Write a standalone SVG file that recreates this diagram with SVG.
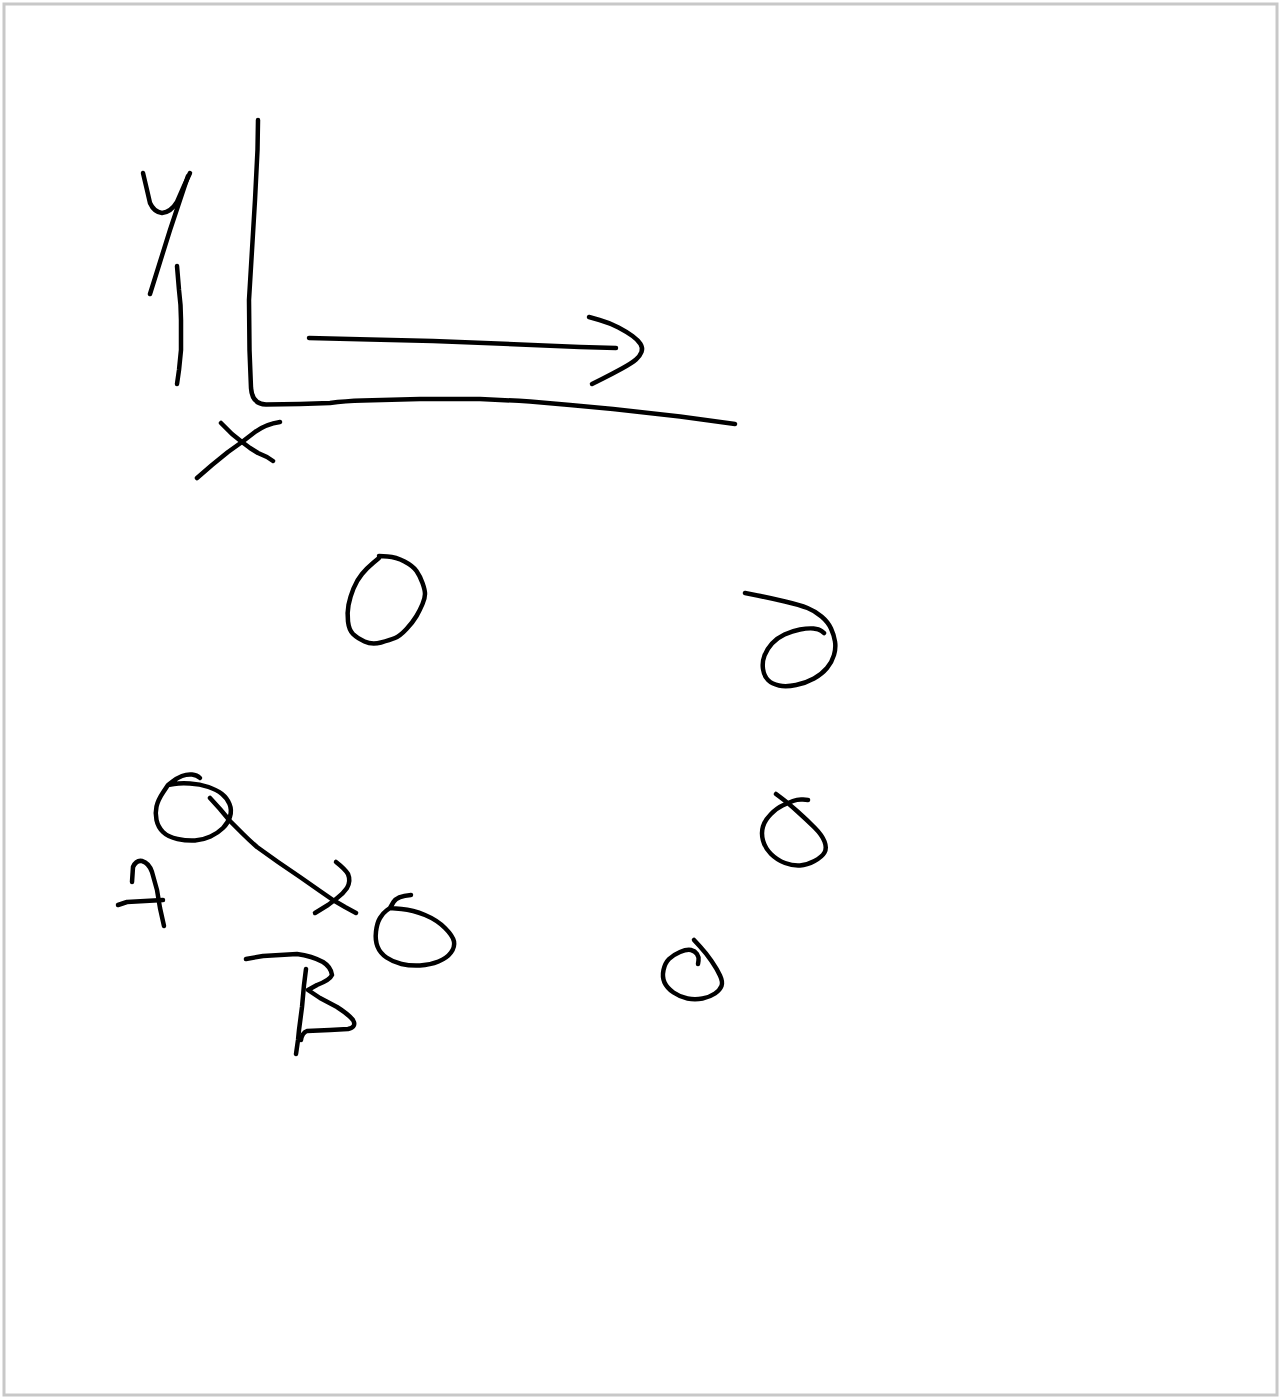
<svg xmlns="http://www.w3.org/2000/svg" width="1281" height="1399" viewBox="0 0 1281 1399">
<style>
.ink{fill:none;stroke:#000;stroke-width:4.5;stroke-linecap:round;stroke-linejoin:round}
</style>
<rect x="0" y="0" width="1281" height="1399" fill="#fff"/>
<rect x="4" y="4" width="1273" height="1391" fill="#fff" stroke="#c8c8c8" stroke-width="3"/>
<g id="axes">
<path class="ink" d="M258,120 L257.5,150 L255,200 L252,250 L249,300 L249.5,350 L251,388 Q252,404 266,404.5 L300,404 L330,403 Q345,401 363,400.5 L420,399 L480,399 Q505,400 530,401.5 L570,405 L613,409 L680,416.5 L735,424"/>
<polyline class="ink" points="309,338 370,339.5 433,341 520,344.5 580,347 616,348"/>
<path class="ink" d="M589,317 L599.5,320 Q610,323 618.5,327.5 Q627,332 632.5,336 Q638,340 640.5,344 Q643,348 641.5,352 Q640,356 636,359.5 Q632,363 622,368.5 Q612,374 602,379 L592,384"/>
</g>
<g id="label-y">
<path class="ink" d="M143,173 L147,190 L150,203 Q154,212 162,213 Q171,212 177,202 L184,186 L190,173"/>
<polyline class="ink" points="188,176 180,200 170,230 160,262 150,294"/>
<path class="ink" d="M177,266 L179,290 Q181,305 181,320 L181,350 L179,370 L177,384"/>
</g>
<g id="label-x">
<polyline class="ink" points="221,423 232,434 242,442 250,448 258,453 267,457 273,461"/>
<path class="ink" d="M280,422 Q266,424 255,432 L242,442 L228,452 L212,465 L197,478"/>
</g>
<g id="node-1">
<path class="ink" d="M379,556 L387.5,556.5 Q396,557 404.5,561.5 Q413,566 416.5,571 Q420,576 422.5,583 Q425,590 425,594 Q425,598 422.5,604 Q420,610 416.5,616 Q413,622 406.5,629 Q400,636 395,638 Q390,640 381,642.5 Q372,645 364.5,641.5 Q357,638 353,634 Q349,630 348,621.5 Q347,613 348.5,605 Q350,597 353.5,588.5 Q357,580 362,574 Q367,568 373,563 L379,558"/>
</g>
<g id="node-2">
<path class="ink" d="M745,593 L757.5,595.5 Q770,598 785,601.5 Q800,605 807.5,608 Q815,611 821.5,616.5 Q828,622 831,628.5 Q834,635 835,641.5 Q836,648 834,655 Q832,662 827,668 Q822,674 814,678.5 Q806,683 796,685 Q786,687 779,685.5 Q772,684 768,680 Q764,676 763,669 Q762,662 764.5,655.5 Q767,649 772,643.5 Q777,638 784.5,634.5 Q792,631 800,629.5 Q808,628 813.5,628.5 Q819,629 821.5,631 L824,633"/>
</g>
<g id="node-3">
<path class="ink" d="M776,794 L782,798.5 Q788,803 797.5,811.5 Q807,820 814.5,827.5 Q822,835 824.5,841.5 Q827,848 824.5,852.5 Q822,857 814.5,861 Q807,865 800,865.5 Q793,866 785,863 Q777,860 771,854 Q765,848 763,840.5 Q761,833 763,826.5 Q765,820 771,814 Q777,808 782.5,805.5 Q788,803 793,801 Q798,799 803,799.5 L808,800"/>
</g>
<g id="node-4">
<path class="ink" d="M694,940 L700,946.5 Q706,953 711.5,961 Q717,969 720,975.5 Q723,982 721.5,986 Q720,990 715,993.5 Q710,997 702.5,998.5 Q695,1000 687.5,998.5 Q680,997 673.5,992.5 Q667,988 664.5,982.5 Q662,977 663.5,970 Q665,963 669,959 Q673,955 680,952 Q687,949 691,950 Q695,951 697,954 Q699,957 698.5,960.5 L698,964"/>
</g>
<g id="node-A">
<path class="ink" d="M200,778 Q197,775 192,774.5 Q187,774 182,776 Q177,778 172.5,781.5 L168,785 L174,784 Q180,783 190,783.5 Q200,784 208.5,787 Q217,790 222,794 Q227,798 229.5,804 Q232,810 230,816.5 Q228,823 223,828 Q218,833 210.5,836.5 Q203,840 195,840.5 Q187,841 177.5,839 Q168,837 163,832 Q158,827 156.5,820 Q155,813 156.5,806.5 Q158,800 163,792.5 L168,785"/>
</g>
<g id="node-B">
<path class="ink" d="M411,895 Q397,896 393.5,902 L390,908 L401.5,909 Q413,910 425,915 Q437,920 445,928 Q453,936 454,941.5 Q455,947 451,952.5 Q447,958 438.5,961.5 Q430,965 420,965.5 Q410,966 401.5,964 Q393,962 386.5,957.5 Q380,953 377.5,946.5 Q375,940 376,931.5 Q377,923 380,918 Q383,913 386.5,910.5 L390,908"/>
</g>
<g id="label-A">
<path class="ink" d="M132,882 L133,867 Q136,860 142,861 Q149,863 152,872 L157,890 L160,908 L164,926"/>
<polyline class="ink" points="118,905 127,902 145,901 163,900"/>
</g>
<g id="label-B">
<path class="ink" d="M246,959 L263,956 L297,954 Q312,956 323,962 Q331,967 332,975 Q330,980 317,985 L308,990 L320,998 L337,1007 Q348,1014 353,1020 Q357,1027 348,1029 L330,1030 L307,1031 Q302,1033 301,1040"/>
<polyline class="ink" points="306,969 304,985 302,1007 299,1030 298,1040 296,1054"/>
</g>
<g id="connectors">
<path class="ink" d="M210,798 L220,809 L230,821 L243,834 Q250,841 257,847 L278,862 L300,877 L320,891 L333,900 L345,907 L356,913"/>
<path class="ink" d="M336,862 Q345,869 348,874 Q351,881 347,888 Q343,894 336,899 L328,905 L315,913"/>
</g>
</svg>
